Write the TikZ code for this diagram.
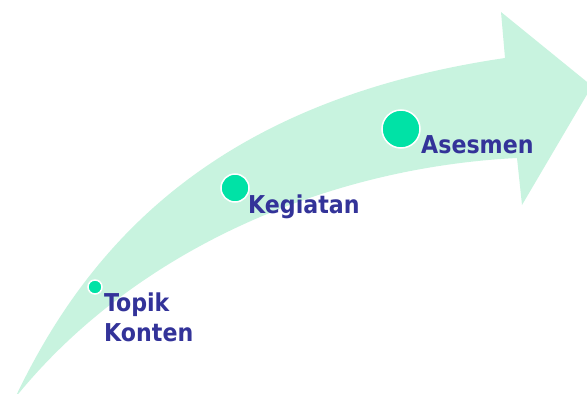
\documentclass[tikz,border=0pt]{standalone}
\usepackage{fontspec}
\newfontfamily\labelfont{DejaVu Sans Condensed}
\usetikzlibrary{positioning}
\definecolor{bandgreen}{RGB}{200,243,223}
\definecolor{dotgreen}{RGB}{0,226,166}
\definecolor{labelblue}{RGB}{51,51,153}

\begin{document}
\begin{tikzpicture}[x=0.03cm,y=-0.03cm,
  dot/.style={circle,fill=dotgreen,draw=white,line width=1.3pt,inner sep=0pt},
  lbl/.style={text=labelblue,font=\labelfont\bfseries\fontsize{21}{25.6}\selectfont,inner sep=0pt,anchor=base west}]
  \useasboundingbox (0,0) rectangle (587,394);
  \clip (0,0) rectangle (587,394);

  % Define arrow outline
  \coordinate (tail) at (15,398);
  \coordinate (upper) at (505,58);
  \coordinate (barbtop) at (501,12);
  \coordinate (tip) at (592,86);
  \coordinate (barbbot) at (522,205);
  \coordinate (lower) at (517,158);

  % Draw arrow
  \fill[bandgreen] (tail) .. controls (90,240) and (220,100) .. (upper)
    -- (barbtop) -- (tip) -- (barbbot) -- (lower)
    .. controls (320,168) and (130,255) .. (tail) -- cycle;

  % Add dots
  \node[dot, minimum size=0.42cm] (topik) at (95,287) {};
  \node[dot, minimum size=0.84cm] (kegiatan) at (235,188) {};
  \node[dot, minimum size=1.14cm] (asesmen) at (401,129) {};

  % Add labels
  \node[lbl, anchor=north west, align=left] (topiklbl) at (104,293) {Topik\\Konten};
  \node[lbl] (kegiatanlbl) at (248,213) {Kegiatan};
  \node[lbl] (asesmenlbl) at (421,153) {Asesmen};
\end{tikzpicture}
\end{document}
